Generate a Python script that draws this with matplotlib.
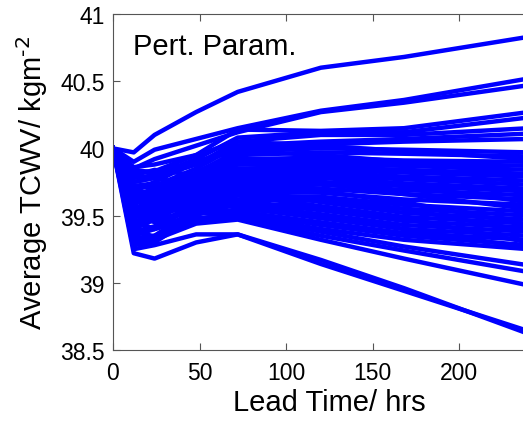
import numpy as np
import matplotlib
matplotlib.use('Agg')
import matplotlib.pyplot as plt

plt.rcParams['font.family'] = ['Liberation Sans', 'DejaVu Sans']
plt.rcParams['mathtext.default'] = 'regular'

# lead times (hrs)
lead_time = [0, 12, 24, 48, 72, 120, 168, 240]

# average TCWV for each perturbed-parameter member (kg m^-2)
members = [
    [40.00, 39.97, 40.10, 40.27, 40.42, 40.60, 40.68, 40.83],
    [40.00, 39.90, 39.99, 40.07, 40.15, 40.28, 40.36, 40.52],
    [40.00, 39.85, 39.92, 40.02, 40.12, 40.27, 40.34, 40.47],
    [40.00, 39.82, 39.83, 39.95, 40.14, 40.13, 40.15, 40.27],
    [40.00, 39.78, 39.80, 39.92, 40.08, 40.12, 40.12, 40.23],
    [40.00, 39.75, 39.78, 39.88, 40.05, 40.10, 40.10, 40.15],
    [40.00, 39.70, 39.72, 39.85, 40.02, 40.05, 40.07, 40.11],
    [40.00, 39.68, 39.75, 39.90, 40.00, 40.03, 40.05, 40.07],
    [40.00, 39.65, 39.70, 39.82, 39.98, 40.00, 39.99, 39.97],
    [40.00, 39.62, 39.68, 39.80, 39.95, 39.97, 39.96, 39.94],
    [40.00, 39.60, 39.65, 39.78, 39.92, 39.93, 39.91, 39.90],
    [40.00, 39.58, 39.66, 39.76, 39.90, 39.90, 39.89, 39.87],
    [40.00, 39.55, 39.62, 39.74, 39.88, 39.88, 39.87, 39.84],
    [40.00, 39.52, 39.60, 39.72, 39.85, 39.86, 39.84, 39.81],
    [40.00, 39.50, 39.58, 39.70, 39.83, 39.84, 39.82, 39.79],
    [40.00, 39.48, 39.55, 39.68, 39.80, 39.82, 39.79, 39.76],
    [40.00, 39.45, 39.52, 39.66, 39.78, 39.80, 39.77, 39.73],
    [40.00, 39.42, 39.50, 39.64, 39.76, 39.78, 39.74, 39.70],
    [40.00, 39.40, 39.47, 39.62, 39.74, 39.75, 39.72, 39.68],
    [40.00, 39.38, 39.42, 39.60, 39.72, 39.73, 39.69, 39.65],
    [40.00, 39.35, 39.40, 39.58, 39.70, 39.70, 39.66, 39.62],
    [40.00, 39.33, 39.35, 39.55, 39.68, 39.67, 39.62, 39.58],
    [40.00, 39.30, 39.33, 39.52, 39.65, 39.64, 39.58, 39.53],
    [40.00, 39.28, 39.30, 39.50, 39.62, 39.61, 39.55, 39.50],
    [40.00, 39.80, 39.84, 39.80, 39.70, 39.60, 39.52, 39.47],
    [40.00, 39.75, 39.78, 39.72, 39.65, 39.57, 39.49, 39.44],
    [40.00, 39.72, 39.74, 39.70, 39.60, 39.54, 39.46, 39.41],
    [40.00, 39.66, 39.68, 39.65, 39.58, 39.51, 39.43, 39.38],
    [40.00, 39.60, 39.62, 39.60, 39.56, 39.48, 39.40, 39.35],
    [40.00, 39.55, 39.58, 39.57, 39.53, 39.45, 39.37, 39.32],
    [40.00, 39.50, 39.53, 39.55, 39.52, 39.43, 39.35, 39.28],
    [40.00, 39.45, 39.48, 39.52, 39.50, 39.40, 39.32, 39.25],
    [40.00, 39.38, 39.40, 39.48, 39.50, 39.38, 39.27, 39.13],
    [40.00, 39.33, 39.35, 39.45, 39.48, 39.35, 39.24, 39.08],
    [40.00, 39.30, 39.32, 39.44, 39.47, 39.32, 39.18, 38.98],
    [40.00, 39.25, 39.28, 39.36, 39.36, 39.14, 38.94, 38.64],
    [40.00, 39.22, 39.18, 39.30, 39.36, 39.17, 38.96, 38.62],
    [40.00, 39.86, 39.88, 39.95, 40.05, 40.02, 39.98, 39.92],
    [40.00, 39.84, 39.82, 39.90, 39.98, 39.95, 39.90, 39.80],
    [40.00, 39.70, 39.64, 39.72, 39.85, 39.80, 39.72, 39.60],
    [40.00, 39.62, 39.56, 39.66, 39.80, 39.74, 39.66, 39.55],
    [40.00, 39.57, 39.50, 39.60, 39.72, 39.68, 39.60, 39.43],
    [40.00, 39.52, 39.45, 39.56, 39.66, 39.62, 39.55, 39.38],
    [40.00, 39.46, 39.40, 39.52, 39.60, 39.56, 39.48, 39.30],
    [40.00, 39.40, 39.34, 39.46, 39.55, 39.50, 39.40, 39.26],
]

xticks = [0, 50, 100, 150, 200]
yticks = [38.5, 39, 39.5, 40, 40.5, 41]

fig = plt.figure(figsize=(5.23, 4.27), dpi=100)
# axes run past the right edge of the figure (cropped like the original)
ax = fig.add_axes([0.216, 0.178, 0.828, 0.787])

for m in members:
    ax.plot(lead_time, m, color='#0000ff', lw=3.2)

ax.set_xlim(0, 250)
ax.set_ylim(38.5, 41)
ax.set_xticks(xticks)
ax.set_yticks(yticks)
ax.set_yticklabels(['38.5', '39', '39.5', '40', '40.5', '41'])
ax.tick_params(direction='in', top=True, right=True, labelsize=16.5,
               length=5, color='#555555')
ax.tick_params(axis='x', pad=8)
ax.tick_params(axis='y', pad=6)
for s in ax.spines.values():
    s.set_color('#555555')

ax.set_xlabel('Lead Time/ hrs', fontsize=21, labelpad=3)
ax.set_ylabel(r'Average TCWV/ kgm$^{\text{-2}}$', fontsize=21, labelpad=7)
ax.text(0.046, 0.881, 'Pert. Param.', transform=ax.transAxes,
        fontsize=21, va='baseline')

fig.savefig('out.png', dpi=100)
